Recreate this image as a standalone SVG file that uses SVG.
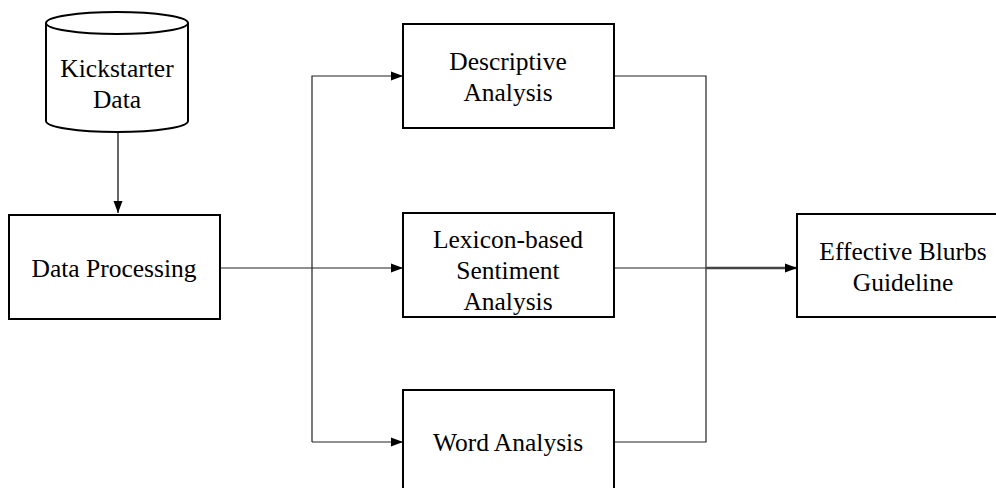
<svg xmlns="http://www.w3.org/2000/svg" width="996" height="488" viewBox="0 0 996 488">
<style>
.box{fill:#fff;stroke:#000;stroke-width:2}
.t{font-family:"Liberation Serif","Times New Roman",serif;font-size:25.5px;fill:#000;text-anchor:middle}
.c{fill:none;stroke:#222;stroke-width:1.2}
</style>
<defs>
<marker id="ah" viewBox="0 0 12 10" refX="12" refY="5" markerWidth="12" markerHeight="10" markerUnits="userSpaceOnUse" orient="auto">
<path d="M0,0.5 L12,5 L0,9.5 Z" fill="#000"/>
</marker>
</defs>
<rect width="996" height="488" fill="#fff"/>
<g id="connectors">
<line class="c" x1="118" y1="132" x2="118" y2="213" marker-end="url(#ah)" style="stroke:#000"/>
<line class="c" x1="220" y1="268" x2="403" y2="268" marker-end="url(#ah)"/>
<polyline class="c" points="312,442 312,76 403,76" marker-end="url(#ah)"/>
<line class="c" x1="312" y1="442" x2="403" y2="442" marker-end="url(#ah)"/>
<polyline class="c" points="614,76 706,76 706,442 614,442"/>
<line class="c" x1="614" y1="268" x2="706" y2="268"/>
<line class="c" x1="706" y1="268" x2="797" y2="268" marker-end="url(#ah)" style="stroke-width:2.5;stroke:#444"/>
</g>
<g id="kickstarter">
<path d="M46,23 L46,121 A71,11 0 0 0 188,121 L188,23" class="box"/>
<ellipse cx="117" cy="23" rx="71" ry="11" class="box"/>
<text class="t" x="117" y="77">Kickstarter</text>
<text class="t" x="117" y="108">Data</text>
</g>
<g id="processing">
<rect class="box" x="9" y="215" width="211" height="104"/>
<text class="t" x="114" y="277">Data Processing</text>
</g>
<g id="descriptive">
<rect class="box" x="403" y="24" width="211" height="104"/>
<text class="t" x="508" y="70">Descriptive</text>
<text class="t" x="508" y="101">Analysis</text>
</g>
<g id="lexicon">
<rect class="box" x="403" y="213" width="211" height="104"/>
<text class="t" x="508" y="248">Lexicon-based</text>
<text class="t" x="508" y="279">Sentiment</text>
<text class="t" x="508" y="310">Analysis</text>
</g>
<g id="word">
<rect class="box" x="403" y="390" width="211" height="104"/>
<text class="t" x="508" y="451">Word Analysis</text>
</g>
<g id="guideline">
<rect class="box" x="797" y="214" width="204" height="103"/>
<text class="t" x="903" y="260">Effective Blurbs</text>
<text class="t" x="903" y="291">Guideline</text>
</g>
</svg>
